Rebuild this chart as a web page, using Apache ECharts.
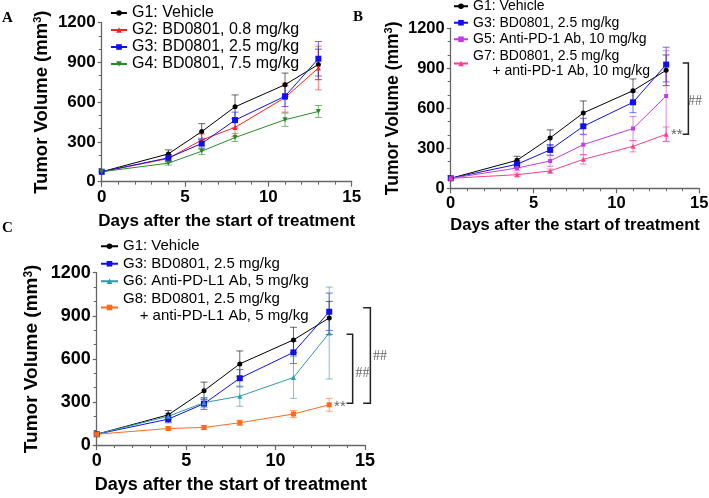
<!DOCTYPE html>
<html>
<head>
<meta charset="utf-8">
<script src="https://cdn.jsdelivr.net/npm/echarts@6/dist/echarts.min.js"></script>
<style>
html,body{margin:0;padding:0;background:#fff}
#chart{width:709px;height:498px}
</style>
</head>
<body>
<div id="chart"></div>
<script>
// days of measurement
var days = [0, 4, 6, 8, 11, 13];

// group means / SEM (mm3)
var g1Mean = [75, 210, 378, 565, 732, 885];
var g1Err  = [0, 30, 60, 90, 88, 115];
var g2Mean = [75, 175, 315, 410, 635, 858];
var g2Err  = [0, 25, 45, 70, 110, 165];
var g3Mean = [75, 180, 288, 465, 645, 928];
var g3Err  = [0, 25, 40, 60, 78, 130];
var g4Mean = [75, 140, 230, 333, 468, 530];
var g4Err  = [0, 15, 25, 30, 50, 45];
var g5Mean = [75, 152, 205, 327, 448, 692];
var g5Err  = [0, 20, 40, 75, 90, 340];
var g7Mean = [75, 102, 130, 217, 315, 405];
var g7Err  = [0, 12, 15, 35, 42, 55];
var g6Mean = [75, 200, 295, 340, 470, 780];
var g6Err  = [0, 20, 35, 70, 145, 320];
var g8Mean = [75, 115, 122, 155, 216, 280];
var g8Err  = [0, 12, 15, 18, 25, 45];

var xTicks = [0, 5, 10, 15];
var yTicks = [0, 300, 600, 900, 1200];

// significance brackets [xLeft, xRight, yTop, yBottom] and labels [x, y, text]
var bracketsB = [[14.0, 14.34, 940, 405]];
var notesB = [[14.74, 650, '##'], [13.64, 400, '**']];
var bracketsC = [[13.97, 14.31, 771, 290], [14.9, 15.3, 956, 290]];
var notesC = [[14.86, 500, '##'], [15.84, 615, '##'], [13.6, 267, '**']];

var nG1 = 'G1: Vehicle';
var nG2 = 'G2: BD0801, 0.8 mg/kg';
var nG3 = 'G3: BD0801, 2.5 mg/kg';
var nG4 = 'G4: BD0801, 7.5 mg/kg';
var nG5 = 'G5: Anti-PD-1 Ab, 10 mg/kg';
var nG7 = 'G7: BD0801, 2.5 mg/kg\n     + anti-PD-1 Ab, 10 mg/kg';
var nG6 = 'G6: Anti-PD-L1 Ab, 5 mg/kg';
var nG8 = 'G8: BD0801, 2.5 mg/kg\n    + anti-PD-L1 Ab, 5 mg/kg';

var FONT = '"Liberation Sans", Arial, sans-serif';
var AX = '#666';

var chart = echarts.init(document.getElementById('chart'));

function line(name, mean, color, symbol, size, gi, rot) {
  return {
    type: 'line', name: name, xAxisIndex: gi, yAxisIndex: gi,
    data: days.map(function (d, i) { return [d, mean[i]]; }),
    symbol: symbol, symbolSize: size, symbolRotate: rot || 0,
    lineStyle: { color: color, width: 1 },
    itemStyle: { color: color },
    z: 4, animation: false, silent: true
  };
}

function errBars(name, mean, err, color, gi) {
  return {
    type: 'custom', name: name + ' sem', xAxisIndex: gi, yAxisIndex: gi,
    data: days.map(function (d, i) { return [d, mean[i] - err[i], mean[i] + err[i]]; }),
    encode: { x: 0, y: [1, 2] },
    z: 2, silent: true, animation: false,
    renderItem: function (params, api) {
      if (api.value(1) === api.value(2)) return;
      var lo = api.coord([api.value(0), api.value(1)]);
      var hi = api.coord([api.value(0), api.value(2)]);
      var w = 3.5;
      var st = { stroke: color, lineWidth: 1, opacity: 0.6 };
      return { type: 'group', children: [
        { type: 'line', shape: { x1: lo[0], y1: lo[1], x2: hi[0], y2: hi[1] }, style: st },
        { type: 'line', shape: { x1: lo[0] - w, y1: lo[1], x2: lo[0] + w, y2: lo[1] }, style: st },
        { type: 'line', shape: { x1: hi[0] - w, y1: hi[1], x2: hi[0] + w, y2: hi[1] }, style: st }
      ]};
    }
  };
}

function brackets(list, gi) {
  return {
    type: 'custom', name: 'br' + gi, xAxisIndex: gi, yAxisIndex: gi, clip: false,
    data: list, encode: { x: [0, 1], y: [2, 3] }, silent: true, animation: false, z: 5,
    renderItem: function (params, api) {
      var a = api.coord([api.value(0), api.value(2)]);
      var b = api.coord([api.value(1), api.value(2)]);
      var c = api.coord([api.value(1), api.value(3)]);
      var d = api.coord([api.value(0), api.value(3)]);
      return { type: 'polyline', shape: { points: [a, b, c, d] },
        style: { stroke: '#222', lineWidth: 1.5, fill: null } };
    }
  };
}

function notes(list, gi) {
  return {
    type: 'custom', name: 'nt' + gi, xAxisIndex: gi, yAxisIndex: gi, clip: false,
    data: list.map(function (n) { return [n[0], n[1]]; }),
    encode: { x: 0, y: 1 }, silent: true, animation: false, z: 5,
    renderItem: function (params, api) {
      var p = api.coord([api.value(0), api.value(1)]);
      var t = list[params.dataIndex][2];
      return { type: 'text', x: p[0], y: p[1],
        style: { text: t, align: 'center', verticalAlign: 'middle', fill: '#666',
          font: (t === '##' ? '14px "Liberation Serif", serif' : '15px "Liberation Sans", sans-serif') } };
    }
  };
}

function xAx(gi, fs, margin, gap) {
  return {
    type: 'value', gridIndex: gi, min: xTicks[0], max: xTicks[xTicks.length - 1], interval: 5,
    name: 'Days after the start of treatment', nameLocation: 'middle', nameGap: gap,
    nameTextStyle: { fontWeight: 'bold', fontSize: fs, color: '#000', fontFamily: FONT },
    axisLine: { show: true, lineStyle: { color: AX, width: 1.3 } },
    axisTick: { show: true, length: 5, lineStyle: { color: AX, width: 1.2 } },
    minorTick: { show: true, splitNumber: 5, length: 3, lineStyle: { color: AX } },
    splitLine: { show: false },
    axisLabel: { fontWeight: 'bold', fontSize: fs, color: '#000', margin: margin, fontFamily: FONT }
  };
}

function yAx(gi, fs, tfs, gap) {
  return {
    type: 'value', gridIndex: gi, min: yTicks[0], max: yTicks[yTicks.length - 1], interval: 300,
    name: '{t|Tumor Volume (mm}{s|3}{t|)}', nameLocation: 'middle', nameGap: gap,
    nameTextStyle: { rich: {
      t: { fontWeight: 'bold', fontSize: tfs, color: '#000', fontFamily: FONT },
      s: { fontWeight: 'bold', fontSize: Math.round(tfs * 0.62), color: '#000', fontFamily: FONT, verticalAlign: 'top' }
    } },
    axisLine: { show: true, lineStyle: { color: AX, width: 1.3 } },
    axisTick: { show: true, length: 4, lineStyle: { color: AX, width: 1.2 } },
    minorTick: { show: true, splitNumber: 3, length: 3, lineStyle: { color: AX } },
    splitLine: { show: false },
    axisLabel: { fontWeight: 'bold', fontSize: fs, color: '#000', margin: 6, fontFamily: FONT,
      formatter: function (v) { return String(v); } }
  };
}

function legend(names, left, top, fs, lh, gap, iw) {
  return {
    orient: 'vertical', left: left, top: top, padding: 0, itemGap: gap,
    itemWidth: iw, itemHeight: 7, selectedMode: false,
    textStyle: { fontSize: fs, lineHeight: lh, color: '#000', fontFamily: FONT },
    data: names
  };
}

var panelLetter = function (txt, x, y) {
  return { type: 'text', left: x, top: y,
    style: { text: txt, font: 'bold 15px "Liberation Serif", "Times New Roman", serif', fill: '#000' } };
};

chart.setOption({
  backgroundColor: '#fff',
  animation: false,
  grid: [
    { left: 101.7, top: 22.7, width: 250, height: 159, outerBoundsMode: 'none' },
    { left: 450.7, top: 28.3, width: 248.6, height: 160, outerBoundsMode: 'none' },
    { left: 96.7, top: 272.7, width: 268.3, height: 172.3, outerBoundsMode: 'none' }
  ],
  xAxis: [xAx(0, 17, 7, 31), xAx(1, 16.5, 7, 29), xAx(2, 18, 7, 31)],
  yAxis: [yAx(0, 17, 18.5, 50), yAx(1, 16.5, 17.5, 49), yAx(2, 18, 19, 55)],
  legend: [
    legend([nG1, nG2, nG3, nG4], 110, 4.5, 16, 17, 0, 16),
    legend([nG1, nG3, nG5, nG7], 453, -1.5, 14, 15.5, 1, 14),
    legend([nG1, nG3, nG6, nG8], 100, 237.5, 15, 17.5, 0, 17)
  ],
  graphic: [
    panelLetter('A', 2, 11),
    panelLetter('B', 353, 10),
    panelLetter('C', 2, 221)
  ],
  series: [
    // panel A
    errBars(nG1, g1Mean, g1Err, '#000', 0),
    errBars(nG2, g2Mean, g2Err, '#ff2020', 0),
    errBars(nG3, g3Mean, g3Err, '#1010ee', 0),
    errBars(nG4, g4Mean, g4Err, '#2a8a2a', 0),
    line(nG1, g1Mean, '#000', 'circle', 5, 0),
    line(nG2, g2Mean, '#ff2020', 'triangle', 5, 0),
    line(nG3, g3Mean, '#1010ee', 'rect', 6, 0),
    line(nG4, g4Mean, '#2a8a2a', 'triangle', 5, 0, 180),
    // panel B
    errBars(nG1, g1Mean, g1Err, '#000', 1),
    errBars(nG3, g3Mean, g3Err, '#1010ee', 1),
    errBars(nG5, g5Mean, g5Err, '#c23be8', 1),
    errBars(nG7, g7Mean, g7Err, '#ff3d8b', 1),
    line(nG1, g1Mean, '#000', 'circle', 5, 1),
    line(nG3, g3Mean, '#1010ee', 'rect', 6, 1),
    line(nG5, g5Mean, '#c23be8', 'rect', 4, 1),
    line(nG7, g7Mean, '#ff3d8b', 'triangle', 5, 1),
    brackets(bracketsB, 1),
    notes(notesB, 1),
    // panel C
    errBars(nG1, g1Mean, g1Err, '#000', 2),
    errBars(nG3, g3Mean, g3Err, '#1010ee', 2),
    errBars(nG6, g6Mean, g6Err, '#2f9aaa', 2),
    errBars(nG8, g8Mean, g8Err, '#ff6a1a', 2),
    line(nG1, g1Mean, '#000', 'circle', 5, 2),
    line(nG3, g3Mean, '#1010ee', 'rect', 6, 2),
    line(nG6, g6Mean, '#2f9aaa', 'triangle', 5, 2),
    line(nG8, g8Mean, '#ff6a1a', 'rect', 5, 2),
    brackets(bracketsC, 2),
    notes(notesC, 2)
  ]
});
</script>
</body>
</html>
